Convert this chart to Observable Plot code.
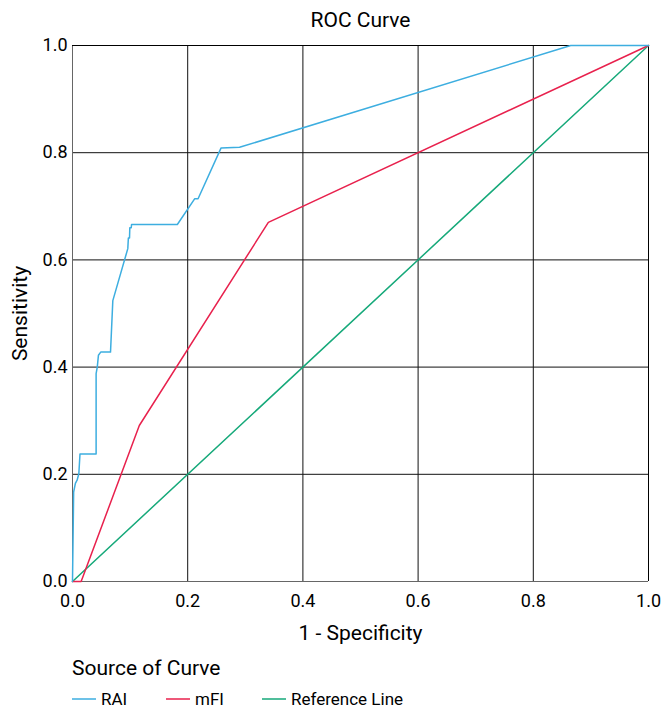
<!DOCTYPE html>
<html>
<head>
<meta charset="utf-8">
<script src="https://cdn.jsdelivr.net/npm/d3@7"></script>
<script src="https://cdn.jsdelivr.net/npm/@observablehq/plot@0.6"></script>
<style>
  body { margin: 0; background: #fff; }
  #wrap { position: relative; width: 662px; height: 708px; overflow: hidden;
    font-family: Roboto, "Liberation Sans", sans-serif; color: #000; }
  #legend-title { position: absolute; left: 72px; top: 656px; font-size: 21px; line-height: 24px; }
  .item { position: absolute; top: 690px; font-size: 17px; line-height: 18px; white-space: nowrap; display: flex; align-items: center; }
  .item svg { margin-right: 5px; }
</style>
</head>
<body>
<div id="wrap">
  <div id="chart"></div>
  <div id="legend-title">Source of Curve</div>
  <div id="legend"></div>
</div>
<script>
// Series data
const raiX = [0, 0.002, 0.005, 0.008, 0.011, 0.013, 0.041, 0.041, 0.043, 0.045, 0.049, 0.066, 0.070, 0.096, 0.097, 0.099, 0.0995, 0.102, 0.1025, 0.182, 0.212, 0.218, 0.258, 0.290, 0.865, 1.0];
const raiY = [0, 0.167, 0.183, 0.189, 0.201, 0.238, 0.238, 0.388, 0.400, 0.422, 0.428, 0.428, 0.524, 0.621, 0.641, 0.641, 0.660, 0.660, 0.666, 0.666, 0.714, 0.714, 0.809, 0.810, 1.0, 1.0];
const mfiX = [0, 0.015, 0.116, 0.340, 1.0];
const mfiY = [0, 0, 0.291, 0.670, 1.0];
const refX = [0, 1];
const refY = [0, 1];
const tickValues = [0, 0.2, 0.4, 0.6, 0.8, 1.0];
const gridValues = [0.2, 0.4, 0.6, 0.8];
const seriesNames = ["RAI", "mFI", "Reference Line"];
const seriesColors = ["#3daee0", "#e8214d", "#16a97a"];

const toRows = (xs, ys, name) => xs.map((x, i) => ({x, y: ys[i], name}));
const rai = toRows(raiX, raiY, "RAI");
const mfi = toRows(mfiX, mfiY, "mFI");
const ref = toRows(refX, refY, "Reference Line");

const font = 'Roboto, "Liberation Sans", sans-serif';

const chart = Plot.plot({
  width: 662,
  height: 648,
  marginTop: 45,
  marginBottom: 67,
  marginLeft: 72,
  marginRight: 14,
  style: {fontFamily: font, fontSize: "18px", background: "#fff", color: "#000"},
  x: {domain: [0, 1]},
  y: {domain: [0, 1]},
  color: {domain: seriesNames, range: seriesColors},
  marks: [
    Plot.ruleX(gridValues, {stroke: "#111", strokeWidth: 1}),
    Plot.ruleY(gridValues, {stroke: "#111", strokeWidth: 1}),
    Plot.ruleX([0], {stroke: "#666", strokeWidth: 1}),
    Plot.ruleY([0], {stroke: "#666", strokeWidth: 1}),
    Plot.ruleX([1], {stroke: "#000", strokeWidth: 1}),
    Plot.ruleY([1], {stroke: "#000", strokeWidth: 1}),
    Plot.line(ref, {x: "x", y: "y", stroke: "name", strokeWidth: 1.5}),
    Plot.line(mfi, {x: "x", y: "y", stroke: "name", strokeWidth: 1.5}),
    Plot.line(rai, {x: "x", y: "y", stroke: "name", strokeWidth: 1.5}),
    Plot.axisX({ticks: tickValues, tickFormat: d3.format(".1f"), tickSize: 0, tickPadding: 13, label: null, fontSize: 18}),
    Plot.axisY({ticks: tickValues, tickFormat: d3.format(".1f"), tickSize: 0, tickPadding: 5, label: null, fontSize: 18}),
    Plot.text(["ROC Curve"], {frameAnchor: "top", dy: -25, lineAnchor: "middle", fontSize: 21, fill: "#000"}),
    Plot.text(["1 - Specificity"], {frameAnchor: "bottom", dy: 52, lineAnchor: "middle", fontSize: 21, fill: "#000"}),
    Plot.text(["Sensitivity"], {frameAnchor: "left", dx: -52, rotate: -90, textAnchor: "middle", lineAnchor: "middle", fontSize: 21, fill: "#000"})
  ]
});
document.getElementById("chart").appendChild(chart);

const legend = document.getElementById("legend");
const lefts = [72, 166, 262];
seriesNames.forEach((n, i) => {
  const d = document.createElement("div");
  d.className = "item";
  d.style.left = lefts[i] + "px";
  d.innerHTML = `<svg width="24" height="4"><line x1="0" x2="24" y1="2" y2="2" stroke="${seriesColors[i]}" stroke-width="1.5"/></svg><span>${n}</span>`;
  legend.appendChild(d);
});
</script>
</body>
</html>
